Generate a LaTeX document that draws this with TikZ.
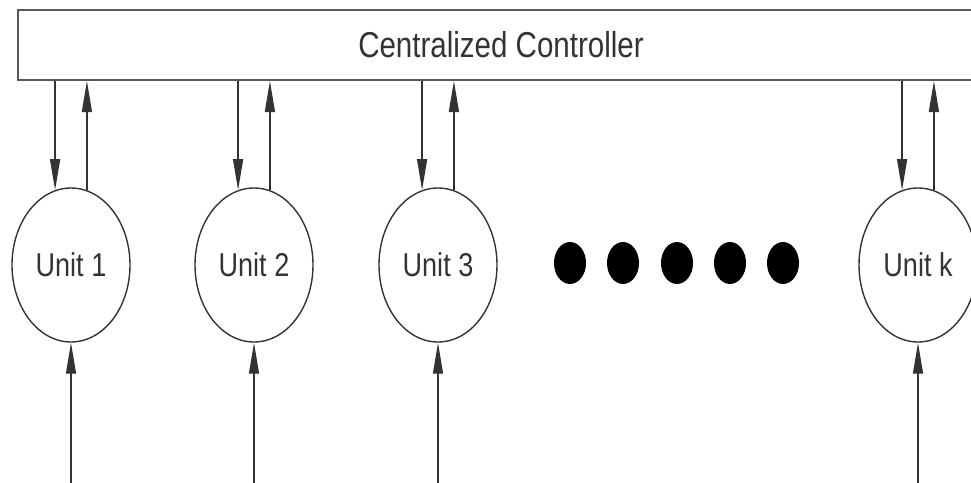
\documentclass[tikz,border=0pt]{standalone}
\usepackage{fontspec}
\setmainfont{Liberation Sans}[FakeStretch=0.82]
\usetikzlibrary{shapes.geometric, arrows.meta, positioning}

\begin{document}
\begin{tikzpicture}[x=1pt, y=-1pt]
    \tikzstyle{ctrlbox} = [draw=black!65, line width=2pt, rectangle, minimum width=966pt, minimum height=70pt, inner sep=0pt, text=black!80, font=\fontsize{36}{40}\selectfont]
    \tikzstyle{unit} = [draw=black!80, line width=1.4pt, ellipse, minimum width=118pt, minimum height=154pt, inner sep=0pt, text=black!80, font=\fontsize{33}{36}\selectfont]
    \tikzstyle{dot} = [fill=black, ellipse, minimum width=32pt, minimum height=42pt, inner sep=0pt]
    \tikzstyle{line} = [draw=black!80, line width=1.4pt, -{Triangle[length=31pt, width=10pt]}]

    \clip (0,0) rectangle (971,482);

    \node [ctrlbox] (ctrl) at (501,45) {Centralized Controller};

    \node [unit] (u1) at (71,265) {Unit 1};
    \node [unit] (u2) at (254,265) {Unit 2};
    \node [unit] (u3) at (438,265) {Unit 3};
    \node [unit] (uk) at (918,265) {Unit k};

    % dots between unit 3 and unit k
    \foreach \i/\x in {1/570, 2/623, 3/677, 4/730, 5/783}
        \node [dot] (d\i) at (\x,263) {};

    % controller <-> units
    \foreach \u in {u1, u2, u3, uk} {
        \draw [line] (\u.102 |- ctrl.south) -- (\u.102);
        \draw [line] (\u.78) -- (\u.78 |- ctrl.south);
    }

    % inputs from below
    \coordinate (base) at (0,490);
    \foreach \u in {u1, u2, u3, uk}
        \draw [line] (\u.south |- base) -- (\u.south);
\end{tikzpicture}
\end{document}
